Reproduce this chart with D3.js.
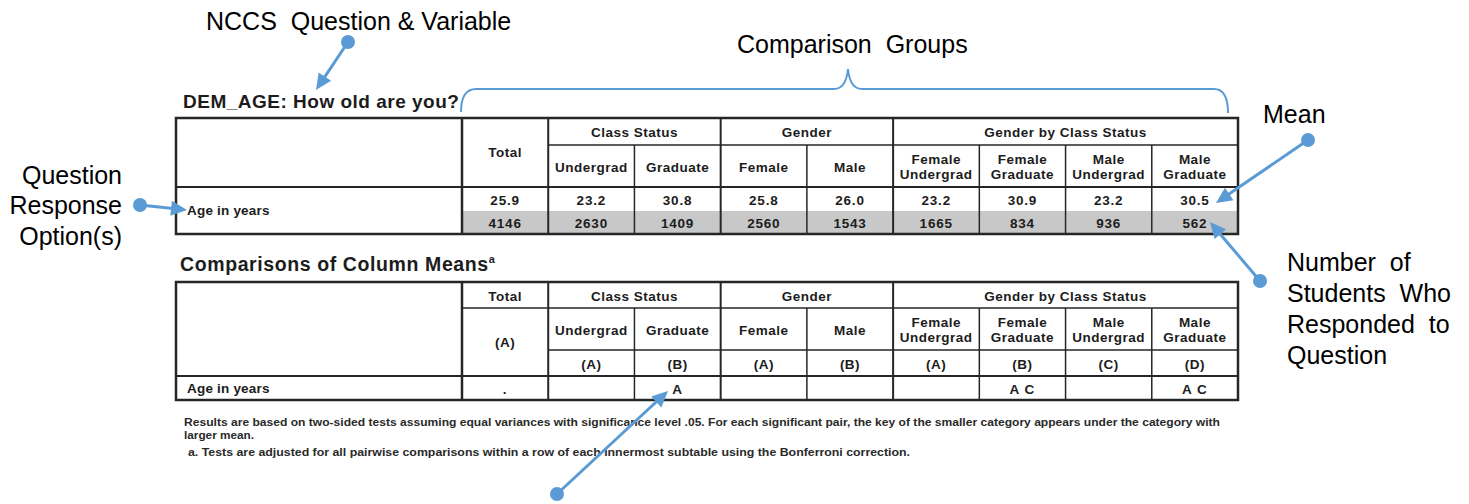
<!DOCTYPE html>
<html>
<head>
<meta charset="utf-8">
<script src="https://cdn.jsdelivr.net/npm/d3@7"></script>
<style>
  html, body { margin: 0; padding: 0; background: #ffffff; }
  svg { display: block; }
</style>
</head>
<body>
<svg id="chart" width="1469" height="504"></svg>
<script>
// ---------------- DATA ----------------
const questionTitle = "DEM_AGE: How old are you?";
const comparisonTitle = "Comparisons of Column Means";
const rowLabel = "Age in years";
const totalLabel = "Total";
const categories = ["Total", "Undergrad", "Graduate", "Female", "Male",
  "Female Undergrad", "Female Graduate", "Male Undergrad", "Male Graduate"];
const groupNames = ["Class Status", "Gender", "Gender by Class Status"];
const groupMembers = [
  ["Undergrad", "Graduate"],
  ["Female", "Male"],
  ["Female Undergrad", "Female Graduate", "Male Undergrad", "Male Graduate"]
];
const meanValues = [25.9, 23.2, 30.8, 25.8, 26.0, 23.2, 30.9, 23.2, 30.5];
const countValues = [4146, 2630, 1409, 2560, 1543, 1665, 834, 936, 562];
const columnKeys = ["(A)", "(A)", "(B)", "(A)", "(B)", "(A)", "(B)", "(C)", "(D)"];
const significanceLetters = [".", "", "A", "", "", "", "A C", "", "A C"];
const footnoteLines = [
  "Results are based on two-sided tests assuming equal variances with significance level .05. For each significant pair, the key of the smaller category appears under the category with",
  "larger mean.",
  "a. Tests are adjusted for all pairwise comparisons within a row of each innermost subtable using the Bonferroni correction."
];
const annotationNCCS = ["NCCS  Question & Variable"];
const annotationGroups = ["Comparison  Groups"];
const annotationMean = ["Mean"];
const annotationCount = ["Number  of", "Students  Who", "Responded  to", "Question"];
const annotationResponse = ["Question", "Response", "Option(s)"];

// ---------------- LAYOUT ----------------
const svg = d3.select("#chart");
const tableLeft = 176, labelRight = 462, tableRight = 1238;
const blue = "#5b9bd5";
const ink = "#1c1c1c";
const lineCol = "#262626";
const tableFont = "'Liberation Sans', Arial, Helvetica, sans-serif";

const x = d3.scaleBand().domain(categories).range([labelRight, tableRight]).padding(0);
const fmtMean = d3.format(".1f");
const fmtCount = d3.format("d");

function txt(g, xPos, yPos, s, opts = {}) {
  return g.append("text")
    .attr("x", xPos).attr("y", yPos)
    .attr("dy", opts.dy == null ? "0.36em" : opts.dy)
    .attr("text-anchor", opts.anchor || "middle")
    .attr("font-family", opts.family || tableFont)
    .attr("font-weight", opts.weight || "bold")
    .attr("font-size", opts.size || 13.5)
    .attr("fill", opts.fill || ink)
    .style("letter-spacing", (opts.ls == null ? 0.5 : opts.ls) + "px")
    .text(s);
}
function hline(g, x1, x2, y, w) {
  g.append("line").attr("x1", x1).attr("x2", x2).attr("y1", y).attr("y2", y)
    .attr("stroke", lineCol).attr("stroke-width", w);
}
function vline(g, xx, y1, y2, w) {
  g.append("line").attr("x1", xx).attr("x2", xx).attr("y1", y1).attr("y2", y2)
    .attr("stroke", lineCol).attr("stroke-width", w);
}
function multiLine(g, cx, cy, label, lh, opts) {
  const parts = label.split(" ");
  parts.forEach((l, i) => txt(g, cx, cy + (i - (parts.length - 1) / 2) * lh, l, opts));
}
const groupStart = groupMembers.map(m => x(m[0]));
const groupEnd = groupMembers.map(m => x(m[m.length - 1]) + x.bandwidth());
const innerBounds = [];
groupMembers.forEach(m => m.slice(1).forEach(c => innerBounds.push(x(c))));

// ---------------- TABLE 1 ----------------
const t1 = { top: 118, grp: 145, hdr: 187, mean: 211, bottom: 234 };
const g1 = svg.append("g");
g1.append("rect").attr("x", tableLeft).attr("y", t1.top)
  .attr("width", tableRight - tableLeft).attr("height", t1.bottom - t1.top).attr("fill", "#fff");
g1.append("rect").attr("x", labelRight).attr("y", t1.mean)
  .attr("width", tableRight - labelRight).attr("height", t1.bottom - t1.mean).attr("fill", "#c8c8c8");

txt(svg, 183, 101, questionTitle, { anchor: "start", size: 19, ls: 0.5 });

txt(g1, x("Total") + x.bandwidth() / 2, (t1.top + t1.hdr) / 2, totalLabel);
groupNames.forEach((n, i) => txt(g1, (groupStart[i] + groupEnd[i]) / 2, (t1.top + t1.grp) / 2 + 1, n));
categories.slice(1).forEach(c => multiLine(g1, x(c) + x.bandwidth() / 2, (t1.grp + t1.hdr) / 2 + 1, c, 15));
txt(g1, 187, (t1.hdr + t1.bottom) / 2, rowLabel, { anchor: "start", ls: 0.2 });
categories.forEach((c, i) => {
  txt(g1, x(c) + x.bandwidth() / 2, (t1.hdr + t1.mean) / 2 + 1, fmtMean(meanValues[i]), { ls: 0.8 });
  txt(g1, x(c) + x.bandwidth() / 2, (t1.mean + t1.bottom) / 2 + 1, fmtCount(countValues[i]), { ls: 0.8 });
});
hline(g1, x("Undergrad"), tableRight, t1.grp, 1.5);
hline(g1, tableLeft, tableRight, t1.hdr, 2);
innerBounds.forEach(b => vline(g1, b, t1.grp, t1.bottom, 1.5));
groupStart.forEach(b => vline(g1, b, t1.top, t1.bottom, 2));
vline(g1, labelRight, t1.top, t1.bottom, 2.5);
g1.append("rect").attr("x", tableLeft).attr("y", t1.top)
  .attr("width", tableRight - tableLeft).attr("height", t1.bottom - t1.top)
  .attr("fill", "none").attr("stroke", lineCol).attr("stroke-width", 2.5);

// ---------------- TABLE 2 ----------------
const t2 = { top: 282, grp: 308, hdr: 350, key: 376, bottom: 400 };
const g2 = svg.append("g");
g2.append("rect").attr("x", tableLeft).attr("y", t2.top)
  .attr("width", tableRight - tableLeft).attr("height", t2.bottom - t2.top).attr("fill", "#fff");
const ct = txt(svg, 180, 264, comparisonTitle, { anchor: "start", size: 19.5, ls: 0.6 });
ct.append("tspan").attr("font-size", 11).attr("dy", "-0.7em").text("a");

txt(g2, x("Total") + x.bandwidth() / 2, (t2.top + t2.grp) / 2 + 1, totalLabel);
txt(g2, x("Total") + x.bandwidth() / 2, (t2.grp + t2.key) / 2, columnKeys[0]);
groupNames.forEach((n, i) => txt(g2, (groupStart[i] + groupEnd[i]) / 2, (t2.top + t2.grp) / 2 + 1, n));
categories.slice(1).forEach((c, i) => {
  multiLine(g2, x(c) + x.bandwidth() / 2, (t2.grp + t2.hdr) / 2 + 1, c, 15);
  txt(g2, x(c) + x.bandwidth() / 2, (t2.hdr + t2.key) / 2 + 1, columnKeys[i + 1]);
});
txt(g2, 187, (t2.key + t2.bottom) / 2, rowLabel, { anchor: "start", ls: 0.2 });
categories.forEach((c, i) => {
  txt(g2, x(c) + x.bandwidth() / 2, (t2.key + t2.bottom) / 2 + 1, significanceLetters[i], { ls: 1 });
});
hline(g2, labelRight, tableRight, t2.grp, 1.5);
hline(g2, x("Undergrad"), tableRight, t2.hdr, 1.5);
hline(g2, tableLeft, tableRight, t2.key, 2);
innerBounds.forEach(b => vline(g2, b, t2.grp, t2.bottom, 1.5));
groupStart.forEach(b => vline(g2, b, t2.top, t2.bottom, 2));
vline(g2, labelRight, t2.top, t2.bottom, 2.5);
g2.append("rect").attr("x", tableLeft).attr("y", t2.top)
  .attr("width", tableRight - tableLeft).attr("height", t2.bottom - t2.top)
  .attr("fill", "none").attr("stroke", lineCol).attr("stroke-width", 2.5);

// ---------------- FOOTNOTES ----------------
const fnY = [422, 435, 452];
const fnX = [184, 184, 188];
const fnLen = [1036, 70, 722];
footnoteLines.forEach((l, i) => {
  txt(svg, fnX[i], fnY[i], l, { anchor: "start", size: 10.5, ls: 0, fill: "#2a2a2a" })
    .attr("textLength", fnLen[i]).attr("lengthAdjust", "spacingAndGlyphs");
});

// ---------------- ANNOTATIONS ----------------
const annFont = "'Liberation Sans', Arial, Helvetica, sans-serif";
function annText(lines, xPos, yPos, lh, anchor) {
  lines.forEach((l, i) => svg.append("text")
    .attr("x", xPos).attr("y", yPos + i * lh).attr("dy", "0.35em")
    .attr("text-anchor", anchor)
    .attr("font-family", annFont).attr("font-size", 25).attr("fill", "#000")
    .style("white-space", "pre")
    .text(l));
}
annText(annotationNCCS, 206, 21, 31, "start");
annText(annotationGroups, 737, 44, 31, "start");
annText(annotationMean, 1263, 114, 31, "start");
annText(annotationCount, 1287, 262, 31, "start");
annText(annotationResponse, 122, 175, 30.5, "end");

function arrow(x0, y0, x1, y1) {
  const dx = x1 - x0, dy = y1 - y0, len = Math.hypot(dx, dy);
  const ux = dx / len, uy = dy / len;
  const headL = 16, headW = 7.5;
  const bx = x1 - ux * headL, by = y1 - uy * headL;
  svg.append("line").attr("x1", x0).attr("y1", y0)
    .attr("x2", x1 - ux * (headL - 2)).attr("y2", y1 - uy * (headL - 2))
    .attr("stroke", blue).attr("stroke-width", 3);
  svg.append("path")
    .attr("d", `M${x1},${y1} L${bx - uy * headW},${by + ux * headW} L${bx + uy * headW},${by - ux * headW} Z`)
    .attr("fill", blue);
  svg.append("circle").attr("cx", x0).attr("cy", y0).attr("r", 7).attr("fill", blue);
}
arrow(348, 42, 316, 90);
arrow(140, 205, 187, 210);
arrow(1308, 140, 1216, 203);
arrow(1260, 281, 1210, 222);
arrow(557, 494, 668, 391);

svg.append("path")
  .attr("d", "M461,112 Q461,89 476,89 L834,89 Q846,89 848,69 Q850,89 862,89 L1214,89 Q1228,89 1228,113")
  .attr("fill", "none").attr("stroke", blue).attr("stroke-width", 2);
</script>
</body>
</html>
